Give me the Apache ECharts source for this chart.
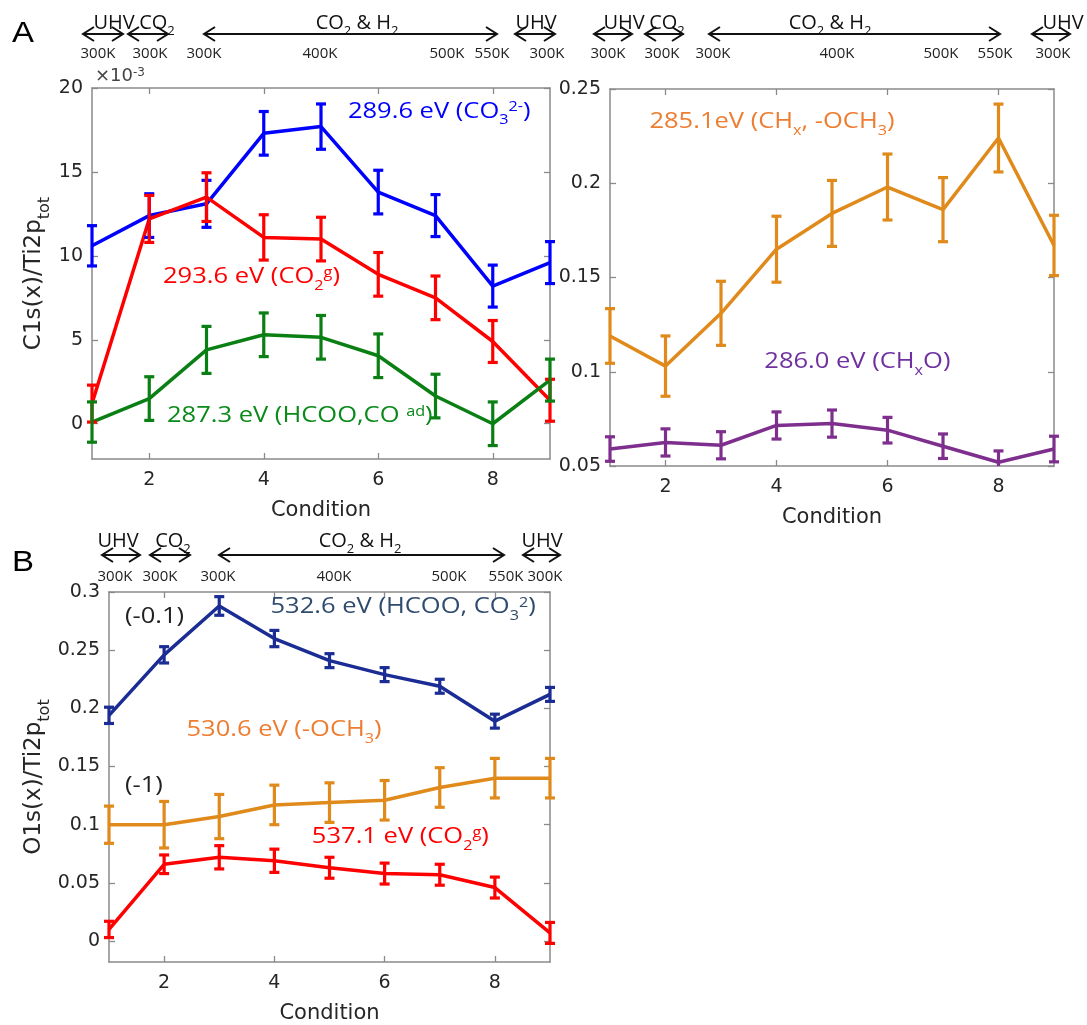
<!DOCTYPE html>
<html><head><meta charset="utf-8">
<script src="https://cdn.jsdelivr.net/npm/echarts@6/dist/echarts.min.js"></script>
<style>html,body{margin:0;padding:0;background:#fff}#c{width:1087px;height:1025px}</style>
</head><body><div id="c"></div>
<script>
// ---------------- DATA ----------------
const conditions = [1, 2, 3, 4, 5, 6, 7, 8, 9];
// Panel A left: C1s(x)/Ti2p_tot (x10^-3)
const c1sCO3 = [10.6, 12.4, 13.1, 17.3, 17.7, 13.8, 12.4, 8.2, 9.6];
const c1sCO3Err = [1.2, 1.3, 1.4, 1.3, 1.35, 1.3, 1.25, 1.25, 1.25];
const c1sCO2g = [1.2, 12.2, 13.5, 11.1, 11.0, 8.9, 7.5, 4.9, 1.4];
const c1sCO2gErr = [1.1, 1.4, 1.45, 1.35, 1.3, 1.3, 1.3, 1.25, 1.25];
const c1sHCOO = [0.1, 1.5, 4.4, 5.3, 5.15, 4.05, 1.65, 0.0, 2.6];
const c1sHCOOErr = [1.2, 1.3, 1.4, 1.3, 1.3, 1.3, 1.3, 1.3, 1.25];
// Panel A right
const c1sCHx = [0.119, 0.103, 0.131, 0.165, 0.184, 0.198, 0.186, 0.224, 0.167];
const c1sCHxErr = [0.0145, 0.016, 0.017, 0.0175, 0.0175, 0.0175, 0.017, 0.018, 0.016];
const c1sCHxO = [0.059, 0.0625, 0.061, 0.0715, 0.0725, 0.069, 0.0605, 0.052, 0.059];
const c1sCHxOErr = [0.0065, 0.0072, 0.0072, 0.0072, 0.0072, 0.0068, 0.0065, 0.006, 0.0068];
// Panel B: O1s(x)/Ti2p_tot
const o1sHCOO = [0.194, 0.246, 0.288, 0.260, 0.241, 0.229, 0.219, 0.189, 0.212];
const o1sHCOOErr = [0.007, 0.007, 0.008, 0.007, 0.006, 0.006, 0.006, 0.006, 0.006];
const o1sOCH3 = [0.100, 0.100, 0.107, 0.117, 0.119, 0.121, 0.132, 0.140, 0.140];
const o1sOCH3Err = [0.016, 0.020, 0.019, 0.017, 0.017, 0.017, 0.017, 0.017, 0.017];
const o1sCO2g = [0.010, 0.066, 0.072, 0.069, 0.063, 0.058, 0.057, 0.046, 0.007];
const o1sCO2gErr = [0.007, 0.008, 0.010, 0.010, 0.009, 0.009, 0.009, 0.009, 0.009];
// Tick labels
const xTicks = [2, 4, 6, 8];
const yTicksA1 = [0, 5, 10, 15, 20];
const yTicksA2 = [0.05, 0.1, 0.15, 0.2, 0.25];
const yTicksB = [0, 0.05, 0.1, 0.15, 0.2, 0.25, 0.3];
const tempLabels = ['300K', '300K', '300K', '400K', '500K', '550K', '300K'];
const stageLabels = ['UHV', 'CO{s|2}', 'CO{s|2} & H{s|2}', 'UHV'];

// ---------------- STYLE ----------------
const AX = '#8a8a8a', TXT = '#262626';
const TICKF = 'DejaVu Sans', ANNF = 'Open Sans';
const C = {blue:'#0000ff', red:'#ff0000', green:'#0a7f14', orange:'#e08a1c', purple:'#7e2f8e', navy:'#1b2c94'};

function rich(fs, fam, k) {
  const s = Math.round(fs * (k || 0.64));
  return {
    s: {fontSize: s, fontFamily: fam, lineHeight: s, padding: [Math.round(fs * 0.6), 0, 0, 0], verticalAlign: 'top'},
    u: {fontSize: s, fontFamily: fam, lineHeight: s, verticalAlign: 'top'}
  };
}

const grids = [
  {left: 92, top: 88, width: 458, height: 371},
  {left: 610, top: 89, width: 444, height: 377},
  {left: 109, top: 592, width: 441, height: 370}
];

function xAxes(gi) {
  const base = {type: 'value', gridIndex: gi, min: 1, max: 9, splitLine: {show: false},
    axisLine: {show: true, onZero: false, lineStyle: {color: AX, width: 1.5}}};
  return [
    Object.assign({}, base, {position: 'bottom',
      axisTick: {show: true, inside: true, length: 6, customValues: xTicks, lineStyle: {color: AX, width: 1.3}},
      axisLabel: {show: true, customValues: xTicks, margin: 12, color: TXT, fontSize: 19, fontFamily: TICKF},
      name: 'Condition', nameLocation: 'middle', nameGap: 41,
      nameTextStyle: {color: TXT, fontSize: 21, fontFamily: TICKF}}),
    Object.assign({}, base, {position: 'top',
      axisTick: {show: true, inside: true, length: 6, customValues: xTicks, lineStyle: {color: AX, width: 1.3}},
      axisLabel: {show: false}})
  ];
}
function yAxes(gi, min, max, ticks, name, gap) {
  const base = {type: 'value', gridIndex: gi, min: min, max: max, splitLine: {show: false},
    axisLine: {show: true, onZero: false, lineStyle: {color: AX, width: 1.5}}};
  return [
    Object.assign({}, base, {position: 'left',
      axisTick: {show: true, inside: true, length: 6, customValues: ticks, lineStyle: {color: AX, width: 1.3}},
      axisLabel: {show: true, customValues: ticks, margin: 9, color: TXT, fontSize: 19, fontFamily: TICKF},
      name: name, nameLocation: 'middle', nameGap: gap, nameRotate: 90,
      nameTextStyle: {color: TXT, fontSize: 23, fontFamily: TICKF, rich: rich(23, TICKF, 0.68)}}),
    Object.assign({}, base, {position: 'right',
      axisTick: {show: true, inside: true, length: 6, customValues: ticks, lineStyle: {color: AX, width: 1.3}},
      axisLabel: {show: false}})
  ];
}

function lineSeries(p, vals, color) {
  return {type: 'line', xAxisIndex: 2 * p, yAxisIndex: 2 * p, symbol: 'none', z: 3,
    lineStyle: {color: color, width: 3.5}, silent: true,
    data: conditions.map((c, i) => [c, vals[i]])};
}
function errSeries(p, vals, errs, color) {
  return {type: 'custom', xAxisIndex: 2 * p, yAxisIndex: 2 * p, z: 4, silent: true,
    data: conditions.map((c, i) => [c, vals[i] - errs[i], vals[i] + errs[i]]),
    encode: {x: 0, y: [1, 2]},
    renderItem: function (params, api) {
      const x = api.value(0);
      const p1 = api.coord([x, api.value(1)]), p2 = api.coord([x, api.value(2)]);
      const cs = params.coordSys;
      const bottom = cs.y + cs.height, top = cs.y;
      const w = 5, st = {stroke: color, lineWidth: 3.2};
      const ch = [];
      const yl = Math.min(p1[1], bottom), yh = Math.max(p2[1], top);
      ch.push({type: 'line', shape: {x1: p1[0], y1: yl, x2: p1[0], y2: yh}, style: st});
      if (p1[1] <= bottom) ch.push({type: 'line', shape: {x1: p1[0] - w, y1: p1[1], x2: p1[0] + w, y2: p1[1]}, style: st});
      if (p2[1] >= top) ch.push({type: 'line', shape: {x1: p2[0] - w, y1: p2[1], x2: p2[0] + w, y2: p2[1]}, style: st});
      return {type: 'group', children: ch};
    }};
}

const xA = [].concat(xAxes(0), xAxes(1), xAxes(2));
const yA = [].concat(
  yAxes(0, -2.1, 20, yTicksA1, 'C1s(x)/Ti2p{s|tot}', 46),
  yAxes(1, 0.05, 0.25, yTicksA2, '', 50),
  yAxes(2, -0.018, 0.3, yTicksB, 'O1s(x)/Ti2p{s|tot}', 63)
);

const chart = echarts.init(document.getElementById('c'), null, {renderer: 'canvas'});
chart.setOption({
  animation: false,
  backgroundColor: '#fff',
  grid: grids.map(g => Object.assign({containLabel: false}, g)),
  xAxis: xA, yAxis: yA,
  series: [
    lineSeries(0, c1sCO3, C.blue), errSeries(0, c1sCO3, c1sCO3Err, C.blue),
    lineSeries(0, c1sCO2g, C.red), errSeries(0, c1sCO2g, c1sCO2gErr, C.red),
    lineSeries(0, c1sHCOO, C.green), errSeries(0, c1sHCOO, c1sHCOOErr, C.green),
    lineSeries(1, c1sCHx, C.orange), errSeries(1, c1sCHx, c1sCHxErr, C.orange),
    lineSeries(1, c1sCHxO, C.purple), errSeries(1, c1sCHxO, c1sCHxOErr, C.purple),
    lineSeries(2, o1sHCOO, C.navy), errSeries(2, o1sHCOO, o1sHCOOErr, C.navy),
    lineSeries(2, o1sOCH3, C.orange), errSeries(2, o1sOCH3, o1sOCH3Err, C.orange),
    lineSeries(2, o1sCO2g, C.red), errSeries(2, o1sCO2g, o1sCO2gErr, C.red)
  ]
});

// --------------- annotations ---------------
const G = [];
function txt(x, y, text, fs, fam, color, align, sx) {
  G.push({type: 'text', x: x, y: y, z: 10, silent: true, scaleX: sx || 1,
    style: {text: text, fill: color, fontSize: fs, fontFamily: fam,
      align: align || 'left', verticalAlign: 'middle', textAlign: align || 'left', textVerticalAlign: 'middle',
      rich: rich(fs, fam)}});
}
function arrow(x1, x2, y) {
  const st = {stroke: '#111', lineWidth: 2, fill: null};
  G.push({type: 'polyline', silent: true, z: 10, shape: {points: [[x1, y], [x2, y]]}, style: st});
  G.push({type: 'polyline', silent: true, z: 10, shape: {points: [[x1 + 11, y - 7], [x1, y], [x1 + 11, y + 7]]}, style: st});
  G.push({type: 'polyline', silent: true, z: 10, shape: {points: [[x2 - 11, y - 7], [x2, y], [x2 - 11, y + 7]]}, style: st});
}
function header(cfg) {
  cfg.arrows.forEach(a => arrow(a[0], a[1], cfg.ya));
  cfg.texts.forEach((x, i) => txt(x, cfg.yt, stageLabels[i], 20, ANNF, '#111', 'center'));
  cfg.temps.forEach((x, i) => txt(x, cfg.yk, tempLabels[i], 15, ANNF, '#222', 'center'));
}
header({ya: 34, yt: 23, yk: 54, arrows: [[83, 123], [128, 168], [204, 497], [515, 555]],
  texts: [114, 157, 357, 536], temps: [98, 150, 204, 320, 447, 492, 547]});
header({ya: 34, yt: 23, yk: 54, arrows: [[594, 632], [645, 683], [709, 1000], [1032, 1070]],
  texts: [624, 667, 830, 1063], temps: [608, 662, 713, 837, 941, 995, 1053]});
header({ya: 555, yt: 541, yk: 577, arrows: [[102, 140], [150, 190], [219, 504], [523, 560]],
  texts: [118, 173, 360, 542], temps: [115, 160, 218, 334, 449, 506, 545]});

txt(12, 34, 'A', 30, 'Liberation Sans', '#000', 'left', 1.1);
txt(12, 563, 'B', 30, 'Liberation Sans', '#000', 'left', 1.1);
txt(95, 76, '×10{u|-3}', 18, TICKF, '#444');

// series labels anchored in data coordinates
function lab(p, cx, cy, text, color) {
  const pt = chart.convertToPixel({xAxisIndex: 2 * p, yAxisIndex: 2 * p}, [cx, cy]);
  txt(pt[0], pt[1], text, 22, ANNF, color, 'left', 1.16);
}
lab(0, 5.47, 18.6, '289.6 eV (CO{s|3}{u|2-})', C.blue);
lab(0, 2.24, 8.76, '293.6 eV (CO{s|2}{u|g})', C.red);
lab(0, 2.31, 0.45, '287.3 eV (HCOO,CO {u|ad})', '#0a8a1a');
lab(1, 1.71, 0.2326, '285.1eV (CH{s|x}, -OCH{s|3})', '#ed7d31');
lab(1, 3.78, 0.1054, '286.0 eV (CH{s|x}O)', '#7030a0');
lab(2, 3.93, 0.287, '532.6 eV (HCOO, CO{s|3}{u|2})', '#2f4b6e');
lab(2, 1.29, 0.2788, '(-0.1)', '#222');
lab(2, 2.405, 0.1812, '530.6 eV (-OCH{s|3})', '#ed7d31');
lab(2, 1.29, 0.1333, '(-1)', '#222');
lab(2, 4.68, 0.0893, '537.1 eV (CO{s|2}{u|g})', C.red);

chart.setOption({graphic: {elements: G}});
</script>
</body></html>
